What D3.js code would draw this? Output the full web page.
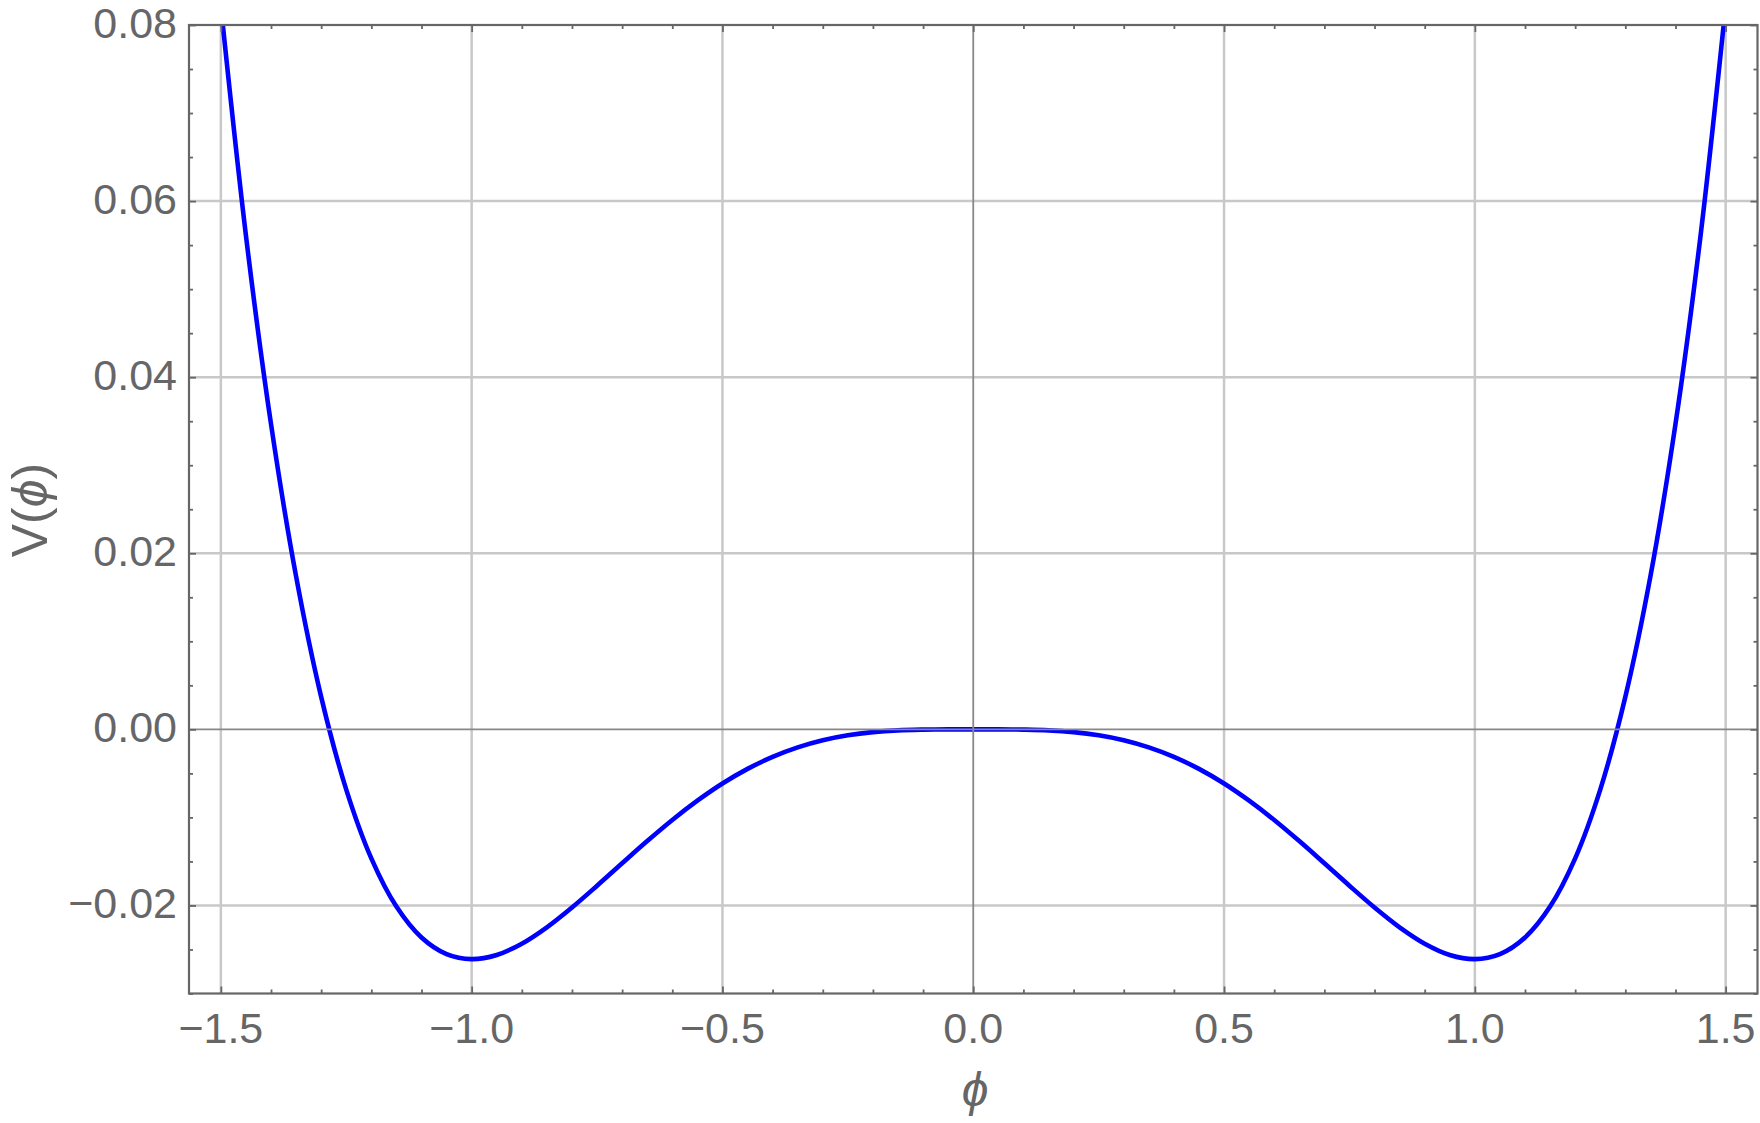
<!DOCTYPE html>
<html>
<head>
<meta charset="utf-8">
<script src="https://cdn.jsdelivr.net/npm/d3@7"></script>
<style>
  html, body { margin: 0; padding: 0; background: #fff; }
  svg { display: block; }
</style>
</head>
<body>
<svg id="chart" width="1760" height="1123"></svg>
<script>
// ---- data ----
const phiValues = [
  -1.50, -1.45, -1.40, -1.35, -1.30, -1.25, -1.20, -1.15, -1.10, -1.05,
  -1.00, -0.95, -0.90, -0.85, -0.80, -0.75, -0.70, -0.65, -0.60, -0.55,
  -0.50, -0.45, -0.40, -0.35, -0.30, -0.25, -0.20, -0.15, -0.10, -0.05,
   0.00,
   0.05,  0.10,  0.15,  0.20,  0.25,  0.30,  0.35,  0.40,  0.45,  0.50,
   0.55,  0.60,  0.65,  0.70,  0.75,  0.80,  0.85,  0.90,  0.95,  1.00,
   1.05,  1.10,  1.15,  1.20,  1.25,  1.30,  1.35,  1.40,  1.45,  1.50
];
const potentialValues = [
   0.08217,  0.05610,  0.03468,  0.01737,  0.00369, -0.00684, -0.01465, -0.02013, -0.02364, -0.02553,
  -0.02610, -0.02562, -0.02434, -0.02248, -0.02023, -0.01776, -0.01521, -0.01269, -0.01029, -0.00810,
  -0.00615, -0.00449, -0.00312, -0.00204, -0.00123, -0.00067, -0.00031, -0.00011, -0.00003,  0.00000,
   0.00000,
   0.00000, -0.00003, -0.00011, -0.00031, -0.00067, -0.00123, -0.00204, -0.00312, -0.00449, -0.00615,
  -0.00810, -0.01029, -0.01269, -0.01521, -0.01776, -0.02023, -0.02248, -0.02434, -0.02562, -0.02610,
  -0.02553, -0.02364, -0.02013, -0.01465, -0.00684,  0.00369,  0.01737,  0.03468,  0.05610,  0.08217
];
const xMajorTicks = [-1.5, -1.0, -0.5, 0.0, 0.5, 1.0, 1.5];
const xTickLabels = ["\u22121.5", "\u22121.0", "\u22120.5", "0.0", "0.5", "1.0", "1.5"];
const yMajorTicks = [-0.02, 0.00, 0.02, 0.04, 0.06, 0.08];
const yTickLabels = ["\u22120.02", "0.00", "0.02", "0.04", "0.06", "0.08"];
const xDomain = [-1.5635, 1.5635];
const yDomain = [-0.03, 0.08];

// ---- layout ----
const svg = d3.select("#chart");
const pL = 189, pR = 1757.5, pT = 25, pB = 993.5;
const x = d3.scaleLinear().domain(xDomain).range([pL, pR]);
const y = d3.scaleLinear().domain(yDomain).range([pB, pT]);

const gridColor = "#c8c8c8";
const frameColor = "#666666";
const textColor = "#666666";
const font = "'Liberation Sans', Arial, sans-serif";

// clip
svg.append("defs").append("clipPath").attr("id", "plotClip")
  .append("rect").attr("x", pL).attr("y", pT)
  .attr("width", pR - pL).attr("height", pB - pT);

// grid lines
const grid = svg.append("g");
grid.selectAll("line.gx").data(xMajorTicks.filter(d => d !== 0)).enter().append("line")
  .attr("x1", d => x(d)).attr("x2", d => x(d))
  .attr("y1", pT).attr("y2", pB)
  .attr("stroke", gridColor).attr("stroke-width", 2.5);
grid.selectAll("line.gy").data(yMajorTicks.filter(d => d !== 0 && d !== 0.08)).enter().append("line")
  .attr("x1", pL).attr("x2", pR)
  .attr("y1", d => y(d)).attr("y2", d => y(d))
  .attr("stroke", gridColor).attr("stroke-width", 2.5);

// curve
const pts = phiValues.map((p, i) => [p, potentialValues[i]]);
const line = d3.line()
  .x(d => x(d[0])).y(d => y(d[1]))
  .curve(d3.curveCatmullRom.alpha(0.5));
svg.append("path")
  .attr("clip-path", "url(#plotClip)")
  .attr("d", line(pts))
  .attr("fill", "none")
  .attr("stroke", "#0000ff")
  .attr("stroke-width", 4.6)
  .attr("stroke-linejoin", "round");

// zero axes on top
svg.append("line")
  .attr("x1", pL).attr("x2", pR).attr("y1", y(0)).attr("y2", y(0))
  .attr("stroke", "#888888").attr("stroke-width", 1.8);
svg.append("line")
  .attr("x1", x(0)).attr("x2", x(0)).attr("y1", pT).attr("y2", pB)
  .attr("stroke", "#888888").attr("stroke-width", 1.8);

// frame ticks (inside), using d3 axes
const xMinor = d3.range(-15, 16).map(i => i / 10).filter(v => Math.abs((v * 2) - Math.round(v * 2)) > 1e-6);
const yMinor = d3.range(-6, 17).map(i => i * 0.005).filter(v => Math.abs(v / 0.02 - Math.round(v / 0.02)) > 1e-6);

function styleAxis(g) {
  g.select(".domain").remove();
  g.selectAll(".tick line").attr("stroke", frameColor).attr("stroke-width", 1.8);
  g.selectAll(".tick text").remove();
}
// bottom
svg.append("g").attr("transform", `translate(0,${pB})`)
  .call(d3.axisTop(x).tickValues(xMajorTicks).tickSize(7)).call(styleAxis);
svg.append("g").attr("transform", `translate(0,${pB})`)
  .call(d3.axisTop(x).tickValues(xMinor).tickSize(4)).call(styleAxis);
// top
svg.append("g").attr("transform", `translate(0,${pT})`)
  .call(d3.axisBottom(x).tickValues(xMajorTicks).tickSize(7)).call(styleAxis);
svg.append("g").attr("transform", `translate(0,${pT})`)
  .call(d3.axisBottom(x).tickValues(xMinor).tickSize(4)).call(styleAxis);
// left
svg.append("g").attr("transform", `translate(${pL},0)`)
  .call(d3.axisRight(y).tickValues(yMajorTicks).tickSize(7)).call(styleAxis);
svg.append("g").attr("transform", `translate(${pL},0)`)
  .call(d3.axisRight(y).tickValues(yMinor).tickSize(4)).call(styleAxis);
// right
svg.append("g").attr("transform", `translate(${pR},0)`)
  .call(d3.axisLeft(y).tickValues(yMajorTicks).tickSize(7)).call(styleAxis);
svg.append("g").attr("transform", `translate(${pR},0)`)
  .call(d3.axisLeft(y).tickValues(yMinor).tickSize(4)).call(styleAxis);

// frame
svg.append("rect")
  .attr("x", pL).attr("y", pT).attr("width", pR - pL).attr("height", pB - pT)
  .attr("fill", "none").attr("stroke", frameColor).attr("stroke-width", 2.2);

// tick labels
svg.append("g").selectAll("text").data(xMajorTicks).enter().append("text")
  .attr("x", d => x(d)).attr("y", 1043)
  .attr("text-anchor", "middle")
  .attr("font-family", font).attr("font-size", 43).attr("fill", textColor)
  .text((d, i) => xTickLabels[i]);
svg.append("g").selectAll("text").data(yMajorTicks).enter().append("text")
  .attr("x", 177).attr("y", d => y(d) + 13)
  .attr("text-anchor", "end")
  .attr("font-family", font).attr("font-size", 43).attr("fill", textColor)
  .text((d, i) => yTickLabels[i]);

// axis labels
svg.append("text")
  .attr("x", 975).attr("y", 1106)
  .attr("text-anchor", "middle")
  .attr("font-family", font).attr("font-size", 48).attr("font-style", "italic")
  .attr("fill", textColor)
  .text("\u03D5");
const yl = svg.append("text")
  .attr("transform", "translate(47,510) rotate(-90)")
  .attr("text-anchor", "middle")
  .attr("font-family", font).attr("font-size", 50).attr("fill", textColor);
yl.append("tspan").text("V(");
yl.append("tspan").attr("font-style", "italic").text("\u03D5");
yl.append("tspan").text(")");
</script>
</body>
</html>
